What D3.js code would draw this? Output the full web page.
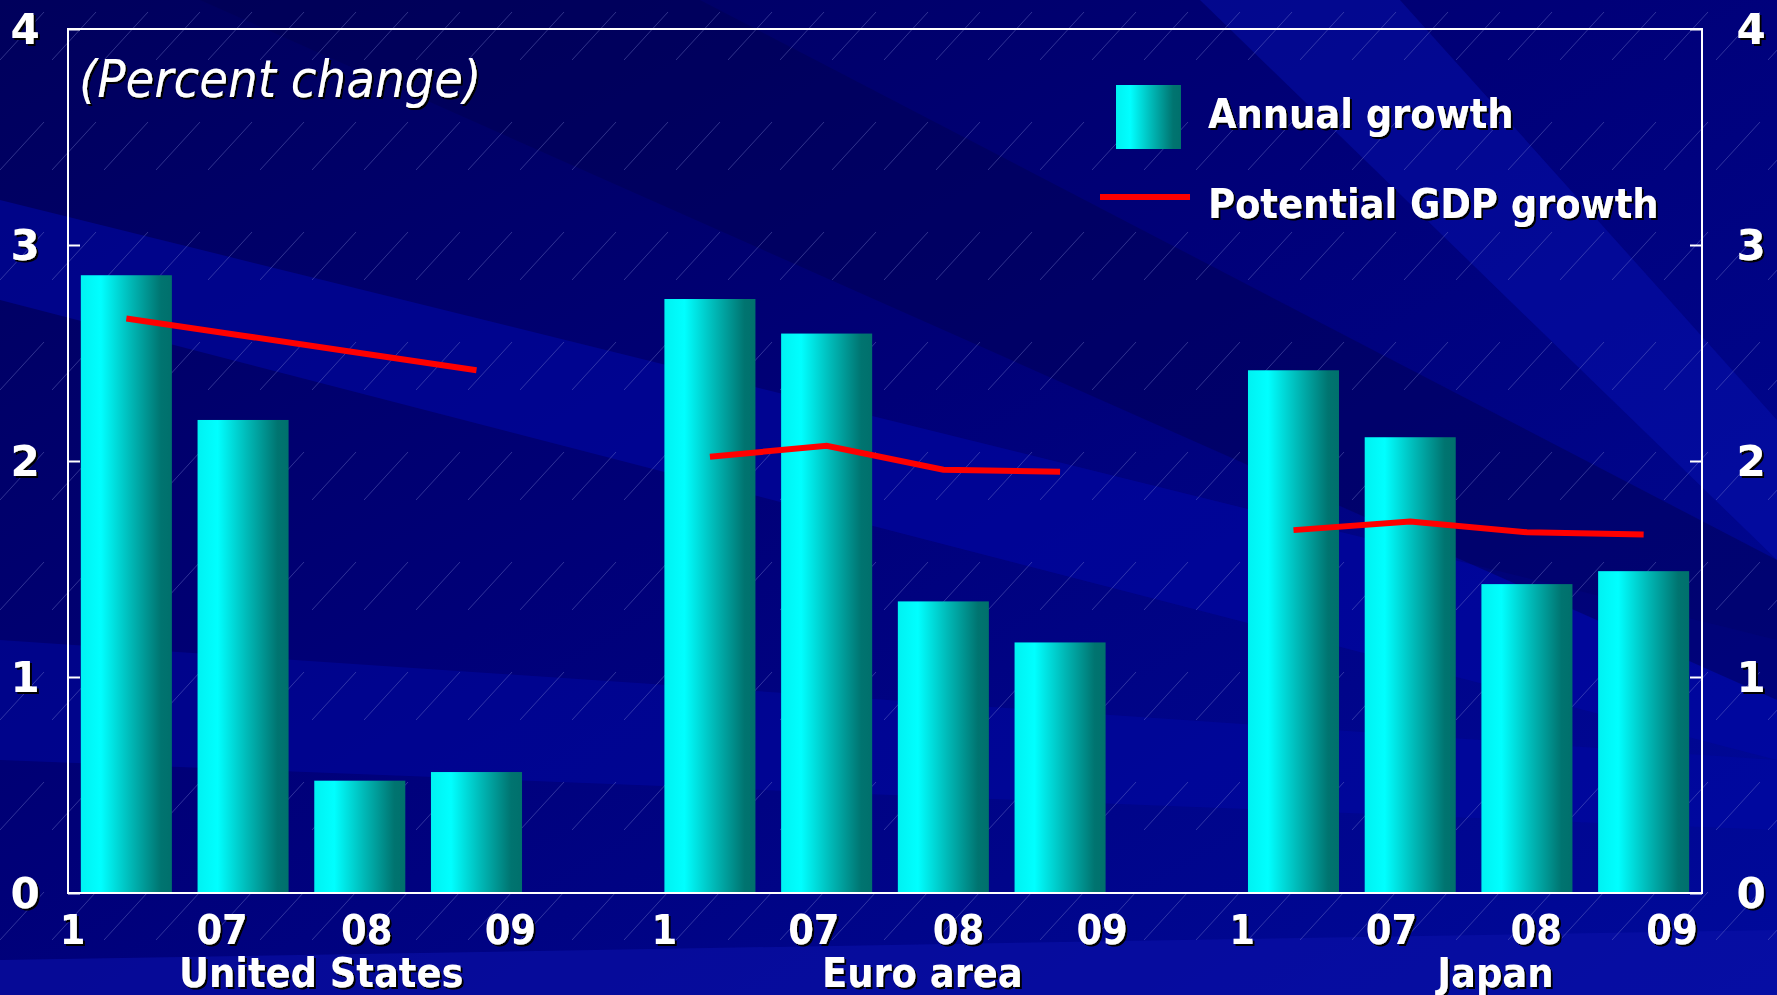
<!DOCTYPE html>
<html>
<head>
<meta charset="utf-8">
<script src="https://d3js.org/d3.v7.min.js"></script>
<style>
  html, body { margin: 0; padding: 0; background: #000080; }
  svg { display: block; }
</style>
</head>
<body>
<div id="chart"></div>
<script>
// chart data
var groups = ["United States", "Euro area", "Japan"];
var periods = ["1", "07", "08", "09"];
var annualGrowth = [
    [2.86, 2.19, 0.52, 0.56],
    [2.75, 2.59, 1.35, 1.16],
    [2.42, 2.11, 1.43, 1.49]
];
var potentialGrowth = [
    [2.66, 2.58, 2.50, 2.42],
    [2.02, 2.07, 1.96, 1.95],
    [1.68, 1.72, 1.67, 1.66]
];
var yTicks = [0, 1, 2, 3, 4];
var legendLabels = ["Annual growth", "Potential GDP growth"];
var unitLabel = "(Percent change)";

var svgWidth = 1777, svgHeight = 995;
var margin = { top: 29, right: 75, bottom: 102, left: 68 };
var width = svgWidth - margin.left - margin.right;
var height = svgHeight - margin.top - margin.bottom;
var font = "'DejaVu Sans Condensed', 'DejaVu Sans', sans-serif";
var slotsPerGroup = periods.length + 1;
var nSlots = groups.length * slotsPerGroup - 1;

var svg = d3.select("#chart").append("svg")
    .attr("width", svgWidth)
    .attr("height", svgHeight);

var defs = svg.append("defs");

// background
var bgGrad = defs.append("linearGradient")
    .attr("id", "bgGrad")
    .attr("x1", "0").attr("y1", "0").attr("x2", "1").attr("y2", "1");
bgGrad.append("stop").attr("offset", "0%").attr("stop-color", "#00005c");
bgGrad.append("stop").attr("offset", "45%").attr("stop-color", "#000078");
bgGrad.append("stop").attr("offset", "100%").attr("stop-color", "#000a9c");

var hatch = defs.append("pattern")
    .attr("id", "hatch")
    .attr("patternUnits", "userSpaceOnUse")
    .attr("width", 52).attr("height", 110);
hatch.append("line")
    .attr("x1", 0).attr("y1", 60).attr("x2", 44).attr("y2", 12)
    .attr("stroke", "#8890d8").attr("stroke-width", 1).attr("stroke-opacity", 0.35);

var barGrad = defs.append("linearGradient")
    .attr("id", "barGrad")
    .attr("x1", "0").attr("y1", "0").attr("x2", "1").attr("y2", "0");
barGrad.append("stop").attr("offset", "0%").attr("stop-color", "#00f2f2");
barGrad.append("stop").attr("offset", "22%").attr("stop-color", "#00ffff");
barGrad.append("stop").attr("offset", "55%").attr("stop-color", "#00b8b6");
barGrad.append("stop").attr("offset", "88%").attr("stop-color", "#007470");
barGrad.append("stop").attr("offset", "100%").attr("stop-color", "#00706c");

var shadow = defs.append("filter").attr("id", "shadow")
    .attr("x", "-10%").attr("y", "-10%").attr("width", "130%").attr("height", "140%");
shadow.append("feDropShadow")
    .attr("dx", 2).attr("dy", 2).attr("stdDeviation", 0.4)
    .attr("flood-color", "#000000").attr("flood-opacity", 1);

svg.append("rect")
    .attr("width", svgWidth).attr("height", svgHeight)
    .attr("fill", "url(#bgGrad)");

// broad diagonal bands of the slide template
var bands = [
    { pts: [[0, 200], [0, 300], [1777, 760], [1777, 640]], c: "#0008a8", o: 0.55 },
    { pts: [[0, 640], [0, 760], [1777, 830], [1777, 760]], c: "#0008a8", o: 0.45 },
    { pts: [[200, 0], [700, 0], [1777, 560], [1777, 700]], c: "#000050", o: 0.45 },
    { pts: [[1200, 0], [1400, 0], [1777, 420], [1777, 560]], c: "#0814b8", o: 0.4 },
    { pts: [[0, 960], [1777, 930], [1777, 995], [0, 995]], c: "#0a10a8", o: 0.6 }
];
svg.append("g").selectAll("polygon")
    .data(bands)
    .enter().append("polygon")
    .attr("points", function(d) { return d.pts.join(" "); })
    .attr("fill", function(d) { return d.c; })
    .attr("fill-opacity", function(d) { return d.o; });

svg.append("rect")
    .attr("width", svgWidth).attr("height", svgHeight)
    .attr("fill", "url(#hatch)");

var g = svg.append("g")
    .attr("transform", "translate(" + margin.left + "," + margin.top + ")");

// scales
var x = d3.scaleBand()
    .domain(d3.range(nSlots))
    .range([0, width])
    .paddingInner(0.22)
    .paddingOuter(0.11);

var slotX = d3.scaleLinear()
    .domain([0, nSlots])
    .range([0, width]);

var y = d3.scaleLinear()
    .domain([0, 4])
    .range([height, 0]);

// flatten for bars
var barData = [];
groups.forEach(function(grp, gi) {
    periods.forEach(function(p, pi) {
        barData.push({ slot: gi * slotsPerGroup + pi, value: annualGrowth[gi][pi] });
    });
});

g.selectAll(".bar")
    .data(barData)
    .enter().append("rect")
    .attr("class", "bar")
    .attr("x", function(d) { return x(d.slot); })
    .attr("width", x.bandwidth())
    .attr("y", function(d) { return y(d.value); })
    .attr("height", function(d) { return height - y(d.value); })
    .attr("fill", "url(#barGrad)");

// potential growth lines, one per group
var line = d3.line()
    .x(function(d) { return x(d.slot) + x.bandwidth() / 2; })
    .y(function(d) { return y(d.value); });

groups.forEach(function(grp, gi) {
    var pts = potentialGrowth[gi].map(function(v, pi) {
        return { slot: gi * slotsPerGroup + pi, value: v };
    });
    g.append("path")
        .datum(pts)
        .attr("d", line)
        .attr("fill", "none")
        .attr("stroke", "#ff0000")
        .attr("stroke-width", 6);
});

// frame
g.append("rect")
    .attr("width", width).attr("height", height)
    .attr("fill", "none")
    .attr("stroke", "#ffffff")
    .attr("stroke-width", 2);

// y axes (ticks inward, labels outside the frame)
var leftAxis = g.append("g").call(d3.axisRight(y).tickValues(yTicks).tickSize(12).tickFormat(""));
var rightAxis = g.append("g").attr("transform", "translate(" + width + ",0)")
    .call(d3.axisLeft(y).tickValues(yTicks).tickSize(12).tickFormat(""));
[leftAxis, rightAxis].forEach(function(a) {
    a.select(".domain").remove();
    a.selectAll("line").attr("stroke", "#ffffff").attr("stroke-width", 2);
});

var yLabelStyle = function(sel) {
    sel.attr("fill", "#ffffff")
        .attr("font-family", "'DejaVu Sans', sans-serif")
        .attr("font-weight", "bold")
        .attr("font-size", "42px")
        .attr("text-anchor", "middle")
        .attr("dy", "0.36em")
        .attr("filter", "url(#shadow)")
        .text(function(d) { return d; });
};
g.selectAll(".ylab-left")
    .data(yTicks).enter().append("text")
    .attr("class", "ylab-left")
    .attr("x", -43)
    .attr("y", function(d) { return y(d); })
    .call(yLabelStyle);
g.selectAll(".ylab-right")
    .data(yTicks).enter().append("text")
    .attr("class", "ylab-right")
    .attr("x", width + 49)
    .attr("y", function(d) { return y(d); })
    .call(yLabelStyle);

// period labels under each group (label spacing differs a little from bar spacing)
var periodOffset = [0.04, 1.32, 2.56, 3.79];
var groupShift = [0, 0.07, 0.02];
var tickData = [];
groups.forEach(function(grp, gi) {
    periods.forEach(function(p, pi) {
        tickData.push({ label: p, pos: gi * slotsPerGroup + groupShift[gi] + periodOffset[pi] });
    });
});
g.selectAll(".period")
    .data(tickData)
    .enter().append("text")
    .attr("class", "period")
    .attr("x", function(d) { return Math.min(slotX(d.pos), width - 30); })
    .attr("y", height + 51)
    .attr("text-anchor", "middle")
    .attr("fill", "#ffffff")
    .attr("font-family", font)
    .attr("font-weight", "bold")
    .attr("font-size", "41px")
    .attr("filter", "url(#shadow)")
    .text(function(d) { return d.label; });

var groupLabelPos = [2.17, 7.32, 12.23];
g.selectAll(".group")
    .data(groups)
    .enter().append("text")
    .attr("class", "group")
    .attr("x", function(d, i) { return slotX(groupLabelPos[i]); })
    .attr("y", height + 94)
    .attr("text-anchor", "middle")
    .attr("fill", "#ffffff")
    .attr("font-family", font)
    .attr("font-weight", "bold")
    .attr("font-size", "41px")
    .attr("filter", "url(#shadow)")
    .text(function(d) { return d; });

// unit note
g.append("text")
    .attr("x", 11)
    .attr("y", 68)
    .attr("fill", "#ffffff")
    .attr("font-family", font)
    .attr("font-style", "italic")
    .attr("font-size", "52px")
    .attr("filter", "url(#shadow)")
    .text(unitLabel);

// legend
var legend = g.append("g").attr("transform", "translate(1032,0)");
legend.append("rect")
    .attr("x", 16).attr("y", 56)
    .attr("width", 65).attr("height", 64)
    .attr("fill", "url(#barGrad)");
legend.append("line")
    .attr("x1", 0).attr("x2", 90)
    .attr("y1", 168).attr("y2", 168)
    .attr("stroke", "#ff0000").attr("stroke-width", 6);
legend.selectAll(".legtext")
    .data(legendLabels)
    .enter().append("text")
    .attr("class", "legtext")
    .attr("x", 108)
    .attr("y", function(d, i) { return 84 + i * 90; })
    .attr("dy", "0.36em")
    .attr("fill", "#ffffff")
    .attr("font-family", font)
    .attr("font-weight", "bold")
    .attr("font-size", "41px")
    .attr("filter", "url(#shadow)")
    .text(function(d) { return d; });
</script>
</body>
</html>
